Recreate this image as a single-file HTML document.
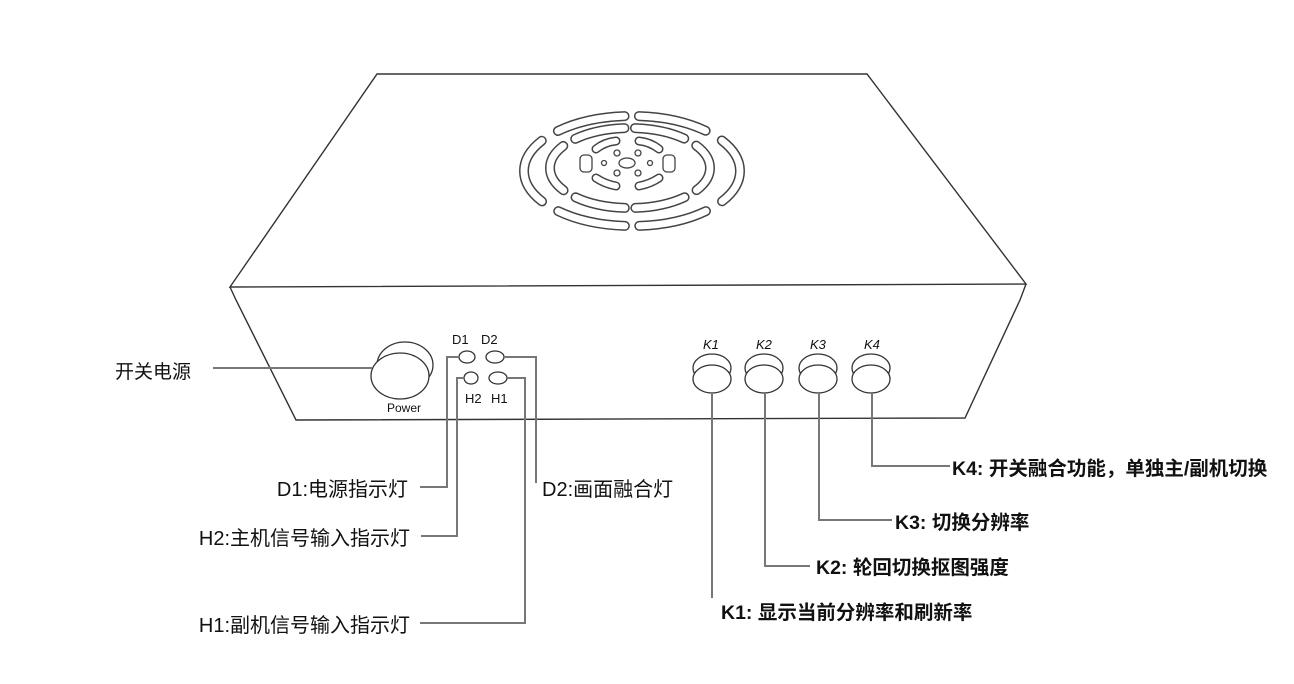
<!DOCTYPE html>
<html><head><meta charset="utf-8"><style>
html,body{margin:0;padding:0;background:#fff;}
svg{display:block;}
.t{font-family:"Liberation Sans","Noto Sans CJK SC",sans-serif;fill:#111;}
</style></head><body>
<svg width="1294" height="684" viewBox="0 0 1294 684" xmlns="http://www.w3.org/2000/svg">
<g fill="none" stroke="#333" stroke-width="1.4">
<path d="M377 74 L867 74 L1026 284 L230 287 L377 74 Z"/>
<path d="M230 287 L236 300 L296 420 L965 418 L1020 300 L1026 284"/>
</g>
<g fill="none" stroke-linecap="round">
<g stroke-dasharray="25 13 47 10 47 13 50 13 47 10 47 13 25">
<ellipse cx="632" cy="171" rx="108" ry="55" pathLength="360" stroke="#444" stroke-width="10"/>
<ellipse cx="632" cy="171" rx="108" ry="55" pathLength="360" stroke="#fff" stroke-width="7"/>
<ellipse cx="630" cy="168" rx="80" ry="40" pathLength="360" stroke="#444" stroke-width="10"/>
<ellipse cx="630" cy="168" rx="80" ry="40" pathLength="360" stroke="#fff" stroke-width="7"/>
</g>
<g id="inner">
<path d="M596 149 Q605 142 616 141" />
<path d="M639 141 Q650 142 659 149" />
<path d="M596 178 Q605 184 616 186" />
<path d="M639 186 Q650 184 659 178" />
</g>
<use href="#inner" stroke="#444" stroke-width="9"/>
<use href="#inner" stroke="#fff" stroke-width="6"/>
</g>
<g fill="#fff" stroke="#444" stroke-width="1.3">
<rect x="580" y="155" width="12" height="17" rx="4"/>
<rect x="663" y="155" width="12" height="17" rx="4"/>
<ellipse cx="627" cy="163" rx="8" ry="5"/>
<circle cx="617" cy="153" r="3"/><circle cx="638" cy="153" r="3"/>
<circle cx="604" cy="163" r="2.5"/><circle cx="650" cy="163" r="2.5"/>
<circle cx="617" cy="173" r="3"/><circle cx="638" cy="173" r="3"/>
</g>
<g fill="#fff" stroke="#333" stroke-width="1.3">
<ellipse cx="405" cy="365" rx="28" ry="23"/>
<ellipse cx="400" cy="376" rx="29" ry="23"/>
</g>
<text class="t" x="387" y="412" font-size="12" fill="#444">Power</text>
<g fill="#fff" stroke="#333" stroke-width="1.3">
<ellipse cx="467" cy="357" rx="8" ry="6"/>
<ellipse cx="495" cy="357" rx="9" ry="6"/>
<ellipse cx="471" cy="378" rx="7" ry="6"/>
<ellipse cx="498" cy="378" rx="9" ry="6"/>
</g>
<text class="t" x="452" y="344" font-size="13" fill="#333">D1</text>
<text class="t" x="481" y="344" font-size="13" fill="#333">D2</text>
<text class="t" x="465" y="403" font-size="13" fill="#333">H2</text>
<text class="t" x="491" y="403" font-size="13" fill="#333">H1</text>
<g fill="#fff" stroke="#333" stroke-width="1.3">
<ellipse cx="712" cy="368" rx="19" ry="14"/><ellipse cx="712" cy="379" rx="19" ry="14"/>
<ellipse cx="764" cy="368" rx="19" ry="14"/><ellipse cx="764" cy="379" rx="19" ry="14"/>
<ellipse cx="818" cy="368" rx="19" ry="14"/><ellipse cx="818" cy="379" rx="19" ry="14"/>
<ellipse cx="871" cy="368" rx="19" ry="14"/><ellipse cx="871" cy="379" rx="19" ry="14"/>
</g>
<g class="t" font-size="13" font-style="italic" fill="#333">
<text x="703" y="349">K1</text><text x="756" y="349">K2</text><text x="810" y="349">K3</text><text x="864" y="349">K4</text>
</g>
<g fill="none" stroke="#777" stroke-width="2">
<path d="M213 368 L372 368"/>
<path d="M459 357 L447 357 L447 487 L420 487"/>
<path d="M464 378 L457 378 L457 536 L421 536"/>
<path d="M507 378 L525 378 L525 623 L420 623"/>
<path d="M504 357 L536 357 L536 483"/>
<path d="M712 393 L712 598"/>
<path d="M765 393 L765 566 L810 566"/>
<path d="M819 393 L819 520 L892 520"/>
<path d="M872 393 L872 466 L950 466"/>
</g>
<g class="t">
<text x="115" y="378" font-size="19">开关电源</text>
<text x="408" y="496" font-size="20" text-anchor="end">D1:电源指示灯</text>
<text x="410" y="545" font-size="20" text-anchor="end">H2:主机信号输入指示灯</text>
<text x="410" y="632" font-size="20" text-anchor="end">H1:副机信号输入指示灯</text>
<text x="542" y="496" font-size="20">D2:画面融合灯</text>
<text x="721" y="619" font-size="19.5" font-weight="bold">K1: 显示当前分辨率和刷新率</text>
<text x="816" y="574" font-size="19.5" font-weight="bold">K2: 轮回切换抠图强度</text>
<text x="895" y="529" font-size="19.5" font-weight="bold">K3: 切换分辨率</text>
<text x="952" y="475" font-size="19.5" font-weight="bold">K4: 开关融合功能，单独主/副机切换</text>
</g>
</svg>
</body></html>
